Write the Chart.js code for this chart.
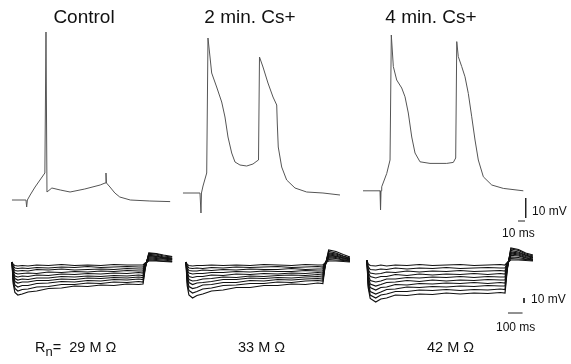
<!DOCTYPE html>
<html>
<head>
<meta charset="utf-8">
<script src="https://cdn.jsdelivr.net/npm/chart.js@4.4.1/dist/chart.umd.min.js"></script>
<style>
  html, body { margin: 0; padding: 0; background: #fff; }
  #wrap { position: relative; width: 571px; height: 364px; overflow: hidden; font-family: "Liberation Sans", Arial, sans-serif; color: #111; }
  canvas { position: absolute; left: 0; }
  .lbl { position: absolute; white-space: pre; line-height: 1; }
  .lbl sub { font-size: 0.9em; vertical-align: -4px; line-height: 1; }
</style>
</head>
<body>
<div id="wrap">
  <canvas id="spikes" width="571" height="240" style="top:0"></canvas>
  <canvas id="steps" width="571" height="124" style="top:240px"></canvas>
</div>
<script>
// condiciones y resistencias de entrada
const conditions = ["Control", "2 min. Cs+", "4 min. Cs+"];
const resistances = ["29 M Ω", "33 M Ω", "42 M Ω"];

// fila superior: potencial de membrana (mV) vs tiempo (ms)
const ctrlTime = [0, 20, 21, 22, 26, 33, 40, 47, 48.6, 50, 57, 69, 83, 104, 126, 133, 134.3, 135, 140, 147, 154, 169, 197, 226];
const ctrlVm   = [-65, -65, -68.5, -65, -62.5, -58.5, -55, -51.5, 19, -61, -59, -60, -61, -59.5, -57.5, -56.5, -51.5, -56.5, -58.5, -61.5, -63.5, -65, -65.5, -65.8];

const cs2Time = [0, 24.3, 25.7, 26.4, 28.6, 33.9, 35.7, 38.6, 41, 48.1, 55.3, 60, 64.3, 69.6, 74.3, 81.4, 91, 100, 105.7, 107.9,
                 109.3, 114.3, 121.4, 128.6, 133.9, 134.7, 136.1, 141, 148.1, 160, 176.7, 200, 224.3];
const cs2Vm   = [-61.5, -61.5, -71.5, -61.5, -58, -51.5, 16, 6.5, -1.5, -8.5, -16, -23.5, -33.5, -41.5, -46, -47.5, -48, -47, -45.5, -45,
                 6.5, 1.5, -6.5, -13.5, -17.5, -26.5, -38.5, -48.5, -55, -59, -61, -61.5, -62.5];

const cs4Time = [0, 24.3, 25, 25.7, 26.7, 33.9, 38.6, 40.4, 43.3, 48.1, 55.3, 60, 64.7, 69.6, 74.3, 81.4, 95.7, 119.6, 129, 132.4,
                 133.9, 136.1, 141, 145.7, 150.4, 155.3, 160, 164.7, 171.9, 183.9, 200.4, 229];
const cs4Vm   = [-60.4, -60.4, -70, -60.4, -58.4, -51.7, -45, 17.5, 1.7, -5, -9, -13.4, -21.5, -33.5, -41.5, -45.9, -46.7, -46.7, -46.2, -44,
                 14.2, 6.7, 1.7, -3.4, -11.7, -23.4, -35, -45, -53.4, -57.5, -59.2, -60.4];

// fila inferior: familias de pulsos hiperpolarizantes (mV vs ms)
const ctrlStepTime = [0, 8, 20, 40, 70, 110, 170, 250, 340, 430, 520, 610, 700, 790, 870, 900, 915, 940, 990, 1040, 1100];
const ctrlSteps = [
  [-65, -70, -72, -73, -72, -73, -71, -72, -70, -72, -71, -72, -70, -71, -71, -71, -67, -63, -63, -64, -65],
  [-65, -73, -77, -78, -77, -78, -76, -77, -75, -76, -74, -76, -75, -74, -75, -75, -68, -61, -62, -63, -64],
  [-65, -77, -82, -83, -82, -83, -80, -81, -79, -81, -80, -79, -80, -78, -79, -79, -69, -59, -60, -61, -63],
  [-65, -81, -87, -89, -88, -87, -88, -85, -86, -84, -85, -83, -84, -82, -83, -83, -70, -57, -58, -59, -61],
  [-65, -85, -93, -95, -93, -94, -91, -92, -89, -90, -88, -89, -87, -88, -86, -87, -71, -55, -56, -58, -60],
  [-65, -88, -98, -101, -99, -100, -97, -97, -94, -95, -93, -94, -92, -93, -91, -92, -72, -53, -54, -57, -59],
  [-65, -92, -104, -107, -105, -105, -102, -102, -99, -100, -97, -98, -96, -97, -95, -96, -74, -52, -53, -56, -58],
  [-65, -98, -111, -115, -112, -112, -108, -107, -104, -105, -102, -103, -100, -101, -99, -100, -75, -50, -51, -55, -57],
  [-65, -103, -118, -123, -120, -119, -115, -114, -110, -110, -107, -108, -105, -106, -104, -105, -76, -48, -49, -53, -55],
  [-65, -108, -126, -131, -129, -125, -123, -118, -117, -113, -114, -111, -112, -109, -110, -109, -78, -47, -48, -51, -54]
];

const cs2StepTime = [0, 8, 20, 45, 75, 115, 175, 255, 345, 440, 535, 630, 725, 820, 905, 940, 955, 980, 1030, 1080, 1126];
const cs2Steps = [
  [-65, -70, -72, -73, -72, -72, -71, -72, -71, -72, -70, -71, -72, -70, -71, -71, -67, -63, -63, -64, -65],
  [-65, -73, -77, -78, -77, -78, -76, -77, -75, -76, -75, -74, -76, -75, -74, -75, -67, -60, -61, -62, -64],
  [-65, -77, -82, -83, -83, -81, -82, -80, -81, -79, -80, -80, -78, -80, -79, -79, -68, -57, -58, -61, -63],
  [-65, -81, -87, -89, -88, -88, -86, -86, -84, -85, -83, -84, -84, -82, -83, -83, -69, -55, -56, -60, -62],
  [-65, -85, -94, -96, -94, -94, -91, -92, -89, -90, -88, -89, -87, -88, -86, -87, -70, -53, -54, -58, -61],
  [-65, -90, -100, -103, -102, -99, -98, -95, -96, -93, -94, -92, -91, -92, -90, -91, -71, -51, -53, -57, -60],
  [-65, -94, -106, -110, -107, -106, -104, -100, -100, -97, -98, -96, -97, -95, -94, -95, -72, -49, -51, -56, -59],
  [-65, -99, -114, -118, -116, -111, -110, -106, -106, -102, -103, -100, -101, -99, -98, -99, -73, -47, -49, -54, -58],
  [-65, -105, -122, -127, -124, -119, -117, -112, -111, -108, -108, -105, -106, -103, -102, -103, -73, -44, -47, -53, -57],
  [-65, -112, -131, -137, -132, -129, -123, -121, -116, -116, -112, -112, -109, -110, -107, -108, -74, -41, -44, -50, -55]
];

const cs4StepTime = [0, 8, 22, 60, 95, 135, 195, 275, 360, 450, 545, 640, 735, 830, 915, 948, 963, 988, 1040, 1090, 1140];
const cs4Steps = [
  [-62, -69, -72, -73, -71, -73, -71, -72, -70, -72, -71, -70, -72, -71, -70, -71, -66, -61, -61, -62, -63],
  [-62, -74, -80, -81, -79, -80, -77, -79, -77, -78, -76, -78, -77, -76, -77, -77, -68, -58, -59, -60, -62],
  [-62, -80, -87, -89, -88, -85, -86, -83, -85, -83, -84, -82, -84, -83, -82, -83, -69, -55, -56, -59, -61],
  [-62, -85, -94, -97, -94, -94, -90, -92, -89, -91, -89, -90, -88, -90, -88, -89, -70, -52, -53, -57, -60],
  [-62, -90, -102, -105, -103, -99, -99, -96, -97, -95, -96, -94, -96, -94, -95, -95, -72, -49, -51, -56, -59],
  [-62, -95, -109, -113, -110, -106, -105, -102, -104, -101, -103, -101, -102, -100, -101, -101, -74, -47, -49, -54, -57],
  [-62, -100, -116, -121, -116, -115, -110, -111, -108, -109, -107, -108, -106, -108, -106, -107, -76, -45, -47, -52, -56],
  [-62, -106, -124, -129, -125, -120, -119, -115, -116, -114, -115, -113, -114, -112, -113, -113, -77, -42, -45, -51, -55],
  [-62, -111, -131, -137, -131, -129, -124, -124, -121, -122, -120, -122, -120, -121, -119, -120, -79, -39, -42, -49, -53],
  [-62, -116, -138, -145, -139, -137, -131, -132, -129, -130, -127, -129, -127, -128, -126, -127, -81, -37, -40, -47, -51]
];

// barras de escala
const spikeBarMv = 10, spikeBarMs = 10;
const stepBarMv = 10, stepBarMs = 100;

// ---- disposición (ms de desplazamiento de cada panel en el eje compartido) ----
const spikeOffsets = [17.1, 261.4, 518.6];
const stepOffsets = [82.4, 1277.5, 2520.6];

function traza(times, vm, offset, color, ancho) {
  return {
    data: times.map((t, i) => ({ x: t + offset, y: vm[i] })),
    borderColor: color,
    borderWidth: ancho,
    showLine: true,
    pointRadius: 0,
    tension: 0
  };
}

function barra(x0, y0, x1, y1) {
  return {
    data: [{ x: x0, y: y0 }, { x: x1, y: y1 }],
    borderColor: "#222",
    borderWidth: 1,
    showLine: true,
    pointRadius: 0
  };
}

function opciones(xmax, ymin, ymax) {
  return {
    responsive: false,
    animation: false,
    events: [],
    layout: { padding: 0 },
    plugins: { legend: { display: false }, tooltip: { enabled: false } },
    scales: {
      x: { type: "linear", display: false, min: 0, max: xmax },
      y: { type: "linear", display: false, min: ymin, max: ymax }
    }
  };
}

// fila superior
const spikeSets = [
  traza(ctrlTime, ctrlVm, spikeOffsets[0], "#555", 1),
  traza(cs2Time, cs2Vm, spikeOffsets[1], "#555", 1),
  traza(cs4Time, cs4Vm, spikeOffsets[2], "#555", 1),
  barra(751, -64, 751, -64 - spikeBarMv),
  barra(740, -75.5, 740 + spikeBarMs, -75.5)
];
new Chart(document.getElementById("spikes"), {
  type: "scatter",
  data: { datasets: spikeSets },
  options: opciones(571 / 0.7, -85, 35)
});

// fila inferior
const stepSets = [];
[[ctrlStepTime, ctrlSteps], [cs2StepTime, cs2Steps], [cs4StepTime, cs4Steps]].forEach(([t, fam], p) => {
  fam.forEach(vm => stepSets.push(traza(t, vm, stepOffsets[p], "#111", 1.2)));
});
stepSets.push(barra(3599, -137, 3599, -137 - stepBarMv));
stepSets.push(barra(3489, -167, 3489 + stepBarMs, -167));
new Chart(document.getElementById("steps"), {
  type: "scatter",
  data: { datasets: stepSets },
  options: opciones(571 / 0.1456, -269, -21)
});

// textos
const wrap = document.getElementById("wrap");
function texto(html, x, y, size, centrado) {
  const d = document.createElement("div");
  d.className = "lbl";
  d.innerHTML = html;
  d.style.left = x + "px";
  d.style.top = y + "px";
  d.style.fontSize = size + "px";
  if (centrado) d.style.transform = "translateX(-50%)";
  wrap.appendChild(d);
}
const tituloX = [84, 250, 431];
conditions.forEach((c, i) => texto(c, tituloX[i], 7, 19, true));
texto(spikeBarMv + " mV", 532, 205, 12);
texto(spikeBarMs + " ms", 502, 227, 12);
texto(stepBarMv + " mV", 531, 293, 12);
texto(stepBarMs + " ms", 496, 321, 12);
texto("R<sub>n</sub>=  " + resistances[0], 35, 340, 14.5);
texto(resistances[1], 238, 340, 14.5);
texto(resistances[2], 427, 340, 14.5);
</script>
</body>
</html>
